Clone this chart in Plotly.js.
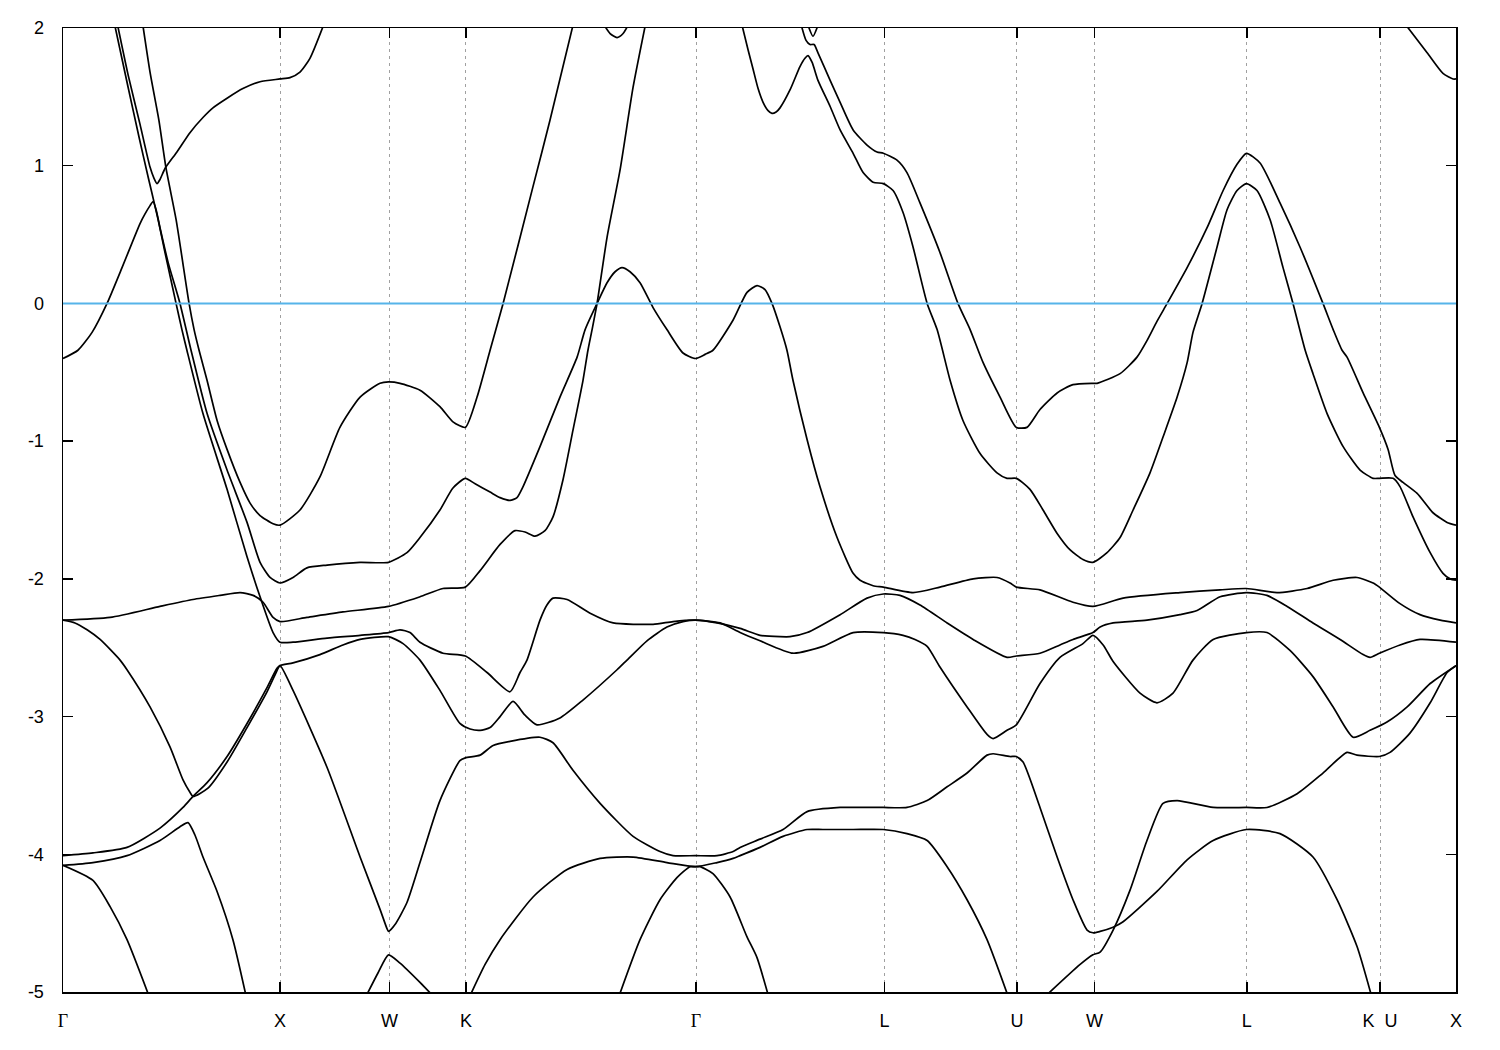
<!DOCTYPE html>
<html>
<head>
<meta charset="utf-8">
<script src="https://cdn.plot.ly/plotly-3.0.1.min.js"></script>
<style>html,body{margin:0;padding:0;background:#fff;}#plot{width:1500px;height:1050px;}</style>
</head>
<body>
<div id="plot"></div>
<script>
// High-symmetry points along the k-path
const kTicks = [0, 1.0, 1.504, 1.857, 2.917, 3.785, 4.396, 4.753, 5.455, 6.069, 6.419];
const kLabels = ['Γ', 'X', 'W', 'K', 'Γ', 'L', 'U', 'W', 'L', 'K\u00a0\u00a0U', 'X'];
const eTicks = [-5, -4, -3, -2, -1, 0, 1, 2];
const eLabels = ['-5', '-4', '-3', '-2', '-1', '0', '1', '2'];
const fermiLevel = 0;

// Band curves (k in 2π/a, E in eV)
const b1_k = [0,0.069,0.134,0.203,0.272,0.355,0.378,0.401,0.415,0.429,0.447,0.484,0.539,0.590,0.664,0.756,0.848,0.908,0.954,1.000,1.060,1.124,1.217,1.369,1.500,1.585,1.645,1.737,1.797,1.854,1.899,1.968,2.014,2.060,2.092,2.120,2.198,2.290,2.369,2.406,2.461,2.507,2.544,2.576,2.613,2.659,2.719,2.783,2.857,2.914,2.959,2.995,3.088,3.152,3.198,3.235,3.267,3.304,3.336,3.364,3.429,3.488,3.567,3.641,3.673,3.733,3.780,3.917,4.041,4.194,4.304,4.364,4.393,4.502,4.654,4.746,4.885,5.147,5.332,5.453,5.594,5.733,5.853,5.963,6.037,6.066,6.161,6.253,6.346,6.419];
const b1_E = [-0.40,-0.34,-0.21,0.00,0.26,0.58,0.65,0.71,0.74,0.68,0.55,0.30,0.00,-0.34,-0.80,-1.21,-1.59,-1.88,-1.99,-2.03,-1.99,-1.92,-1.90,-1.88,-1.88,-1.81,-1.70,-1.50,-1.34,-1.27,-1.31,-1.37,-1.41,-1.43,-1.41,-1.33,-1.04,-0.68,-0.39,-0.19,0.00,0.15,0.23,0.26,0.23,0.15,-0.03,-0.19,-0.36,-0.40,-0.37,-0.34,-0.12,0.08,0.13,0.10,0.00,-0.17,-0.34,-0.56,-0.99,-1.33,-1.70,-1.96,-2.01,-2.05,-2.06,-2.10,-2.06,-2.00,-1.99,-2.03,-2.06,-2.08,-2.17,-2.20,-2.14,-2.10,-2.08,-2.07,-2.10,-2.07,-2.01,-1.99,-2.03,-2.06,-2.18,-2.26,-2.30,-2.32];

const b2_k = [0.240,0.300,0.350,0.392,0.410,0.438,0.470,0.521,0.548,0.571,0.645,0.756,0.848,0.908,0.968,1.000,1.060,1.217,1.369,1.500,1.553,1.599,1.645,1.751,1.854,1.954,2.060,2.106,2.138,2.198,2.230,2.258,2.323,2.429,2.535,2.719,2.811,2.914,3.014,3.120,3.212,3.304,3.350,3.429,3.581,3.705,3.780,3.857,3.949,4.074,4.194,4.350,4.393,4.502,4.594,4.654,4.746,4.779,4.839,4.995,5.147,5.226,5.332,5.453,5.548,5.641,5.760,5.885,5.991,6.023,6.066,6.161,6.253,6.419];
const b2_E = [2.01,1.57,1.21,0.92,0.80,0.61,0.37,0.00,-0.19,-0.34,-0.80,-1.35,-1.84,-2.13,-2.39,-2.46,-2.46,-2.43,-2.41,-2.39,-2.37,-2.39,-2.46,-2.54,-2.56,-2.68,-2.82,-2.68,-2.59,-2.30,-2.19,-2.14,-2.15,-2.25,-2.32,-2.33,-2.31,-2.30,-2.32,-2.36,-2.41,-2.42,-2.42,-2.39,-2.26,-2.14,-2.11,-2.12,-2.19,-2.32,-2.44,-2.57,-2.56,-2.54,-2.48,-2.44,-2.39,-2.35,-2.32,-2.30,-2.26,-2.23,-2.13,-2.10,-2.12,-2.20,-2.32,-2.44,-2.55,-2.57,-2.54,-2.48,-2.44,-2.46];

const b3_k = [0.369,0.401,0.442,0.475,0.521,0.581,0.604,0.627,0.664,0.710,0.756,0.816,0.862,0.908,0.968,1.000,1.092,1.184,1.276,1.369,1.461,1.500,1.553,1.645,1.737,1.797,1.854,1.908,1.968,2.028,2.166,2.244,2.350];
const b3_E = [2.01,1.68,1.33,0.98,0.61,0.00,-0.19,-0.34,-0.56,-0.85,-1.06,-1.30,-1.45,-1.54,-1.60,-1.61,-1.50,-1.26,-0.90,-0.68,-0.58,-0.57,-0.58,-0.63,-0.75,-0.86,-0.90,-0.68,-0.34,0.00,0.85,1.33,2.02];

const b4_k = [0.253,0.300,0.355,0.401,0.419,0.433,0.447,0.470,0.525,0.585,0.645,0.691,0.756,0.829,0.908,1.000,1.046,1.092,1.138,1.198];
const b4_E = [2.01,1.66,1.30,0.99,0.91,0.87,0.90,0.98,1.10,1.24,1.35,1.42,1.49,1.56,1.61,1.63,1.64,1.68,1.78,2.01];

const b5_k = [0,0.217,0.447,0.599,0.724,0.816,0.876,0.922,0.968,1.000,1.124,1.290,1.500,1.645,1.751,1.854,1.922,2.014,2.083,2.129,2.175,2.221,2.258,2.304,2.350,2.396,2.419,2.438,2.461,2.507,2.567,2.627,2.682];
const b5_E = [-2.30,-2.28,-2.20,-2.15,-2.12,-2.10,-2.12,-2.17,-2.28,-2.31,-2.28,-2.24,-2.20,-2.13,-2.07,-2.06,-1.94,-1.75,-1.65,-1.66,-1.69,-1.65,-1.55,-1.28,-0.92,-0.56,-0.34,-0.19,0.00,0.48,0.97,1.57,2.01];

const b6_k = [0,0.055,0.111,0.171,0.263,0.295,0.401,0.493,0.553,0.585,0.599,0.668,0.756,0.848,0.940,0.982,1.000,1.060,1.217,1.369,1.461,1.493,1.500,1.530,1.585,1.645,1.737,1.829,1.854,1.922,1.982,2.060,2.198,2.258,2.350,2.475,2.627,2.751,2.811,2.914,3.014,3.088,3.120,3.212,3.318,3.429,3.581,3.733,3.780,3.889,3.982,4.074,4.166,4.258,4.286,4.364,4.393,4.424,4.502,4.581,4.654,4.719,4.746,4.779,4.839,4.885,5.041,5.180,5.300,5.453,5.608,5.760,5.871,5.963,6.037];
const b6_E = [-2.30,-2.32,-2.37,-2.44,-2.59,-2.66,-2.93,-3.22,-3.46,-3.55,-3.58,-3.52,-3.33,-3.08,-2.82,-2.68,-2.63,-2.81,-3.37,-4.02,-4.40,-4.54,-4.56,-4.51,-4.35,-4.06,-3.61,-3.32,-3.30,-3.28,-3.21,-3.18,-3.15,-3.19,-3.39,-3.63,-3.87,-3.98,-4.01,-4.01,-4.01,-3.98,-3.95,-3.89,-3.82,-3.69,-3.66,-3.66,-3.66,-3.66,-3.61,-3.51,-3.41,-3.28,-3.27,-3.29,-3.29,-3.33,-3.66,-4.02,-4.33,-4.55,-4.57,-4.56,-4.53,-4.49,-4.27,-4.04,-3.90,-3.82,-3.85,-4.02,-4.33,-4.67,-5.07];

const b7_k = [0,0.138,0.295,0.447,0.553,0.599,0.664,0.756,0.848,0.940,0.986,1.000,1.060,1.184,1.290,1.369,1.500,1.567,1.645,1.737,1.829,1.876,1.922,1.968,2.014,2.074,2.129,2.184,2.290,2.396,2.553,2.599,2.691,2.783,2.857,2.914,3.028,3.120,3.212,3.364,3.502,3.641,3.780,3.871,3.926,3.982,4.041,4.166,4.258,4.286,4.350,4.393,4.502,4.594,4.700,4.746,4.793,4.839,4.963,5.041,5.115,5.207,5.300,5.453,5.548,5.654,5.760,5.853,5.945,6.023,6.101,6.194,6.300,6.419];
const b7_E = [-4.01,-3.99,-3.95,-3.81,-3.66,-3.58,-3.48,-3.29,-3.05,-2.79,-2.65,-2.63,-2.61,-2.55,-2.48,-2.44,-2.42,-2.47,-2.59,-2.81,-3.05,-3.09,-3.10,-3.08,-3.00,-2.89,-2.99,-3.06,-3.01,-2.88,-2.66,-2.59,-2.45,-2.35,-2.31,-2.30,-2.32,-2.39,-2.45,-2.54,-2.49,-2.39,-2.39,-2.41,-2.44,-2.49,-2.64,-2.93,-3.13,-3.16,-3.10,-3.06,-2.76,-2.57,-2.47,-2.41,-2.48,-2.60,-2.83,-2.90,-2.83,-2.59,-2.44,-2.39,-2.39,-2.52,-2.71,-2.93,-3.15,-3.10,-3.04,-2.93,-2.76,-2.63];

const b8_k = [0,0.138,0.295,0.447,0.539,0.576,0.608,0.645,0.710,0.783,0.848];
const b8_E = [-4.08,-4.06,-4.01,-3.90,-3.80,-3.77,-3.86,-4.02,-4.27,-4.62,-5.06];

const b9_k = [0,0.138,0.217,0.295,0.406];
const b9_E = [-4.08,-4.19,-4.38,-4.62,-5.07];

const b10_k = [1.387,1.452,1.500,1.553,1.645,1.724];
const b10_E = [-5.06,-4.86,-4.73,-4.79,-4.93,-5.06];

const b11_k = [1.866,1.945,2.014,2.166,2.323,2.475,2.627,2.783,2.914,3.014,3.088,3.120,3.212,3.318,3.429,3.502,3.641,3.780,3.889,3.982,4.074,4.166,4.258,4.364];
const b11_E = [-5.06,-4.80,-4.62,-4.31,-4.11,-4.03,-4.02,-4.06,-4.09,-4.06,-4.03,-4.01,-3.95,-3.87,-3.82,-3.82,-3.82,-3.82,-3.85,-3.90,-4.09,-4.33,-4.62,-5.07];

const b12_k = [2.553,2.659,2.751,2.829,2.889,2.914,2.935,2.995,3.074,3.152,3.198,3.258];
const b12_E = [-5.07,-4.62,-4.33,-4.17,-4.09,-4.09,-4.09,-4.14,-4.31,-4.60,-4.75,-5.07];

const b13_k = [4.507,4.687,4.746,4.779,4.839,4.917,4.995,5.069,5.134,5.300,5.453,5.548,5.687,5.806,5.917,5.963,6.066,6.115,6.207,6.300,6.378,6.419];
const b13_E = [-5.06,-4.80,-4.73,-4.71,-4.55,-4.26,-3.90,-3.63,-3.61,-3.66,-3.66,-3.66,-3.56,-3.41,-3.26,-3.28,-3.29,-3.26,-3.12,-2.90,-2.68,-2.63];

const b15_k = [3.129,3.157,3.180,3.203,3.226,3.249,3.267,3.286,3.304,3.350,3.396,3.419,3.433,3.452,3.479,3.535,3.581,3.641,3.687,3.733,3.780,3.825,3.871,3.917,3.982,4.028,4.088,4.147,4.226,4.304,4.350,4.393,4.456,4.516,4.581,4.641,4.700,4.746,4.811,4.871,4.931,5.009,5.069,5.134,5.180,5.207,5.249,5.318,5.364,5.410,5.453,5.502,5.562,5.622,5.668,5.724,5.760,5.825,5.899,5.977,6.037,6.066,6.129,6.161,6.221,6.300,6.359,6.392,6.419];
const b15_E = [2.02,1.84,1.70,1.56,1.46,1.40,1.38,1.39,1.42,1.55,1.72,1.78,1.80,1.75,1.62,1.43,1.26,1.09,0.95,0.88,0.87,0.82,0.66,0.41,0.00,-0.19,-0.56,-0.85,-1.09,-1.23,-1.27,-1.27,-1.35,-1.50,-1.67,-1.79,-1.86,-1.88,-1.81,-1.70,-1.50,-1.23,-0.97,-0.68,-0.43,-0.21,0.00,0.41,0.68,0.82,0.87,0.82,0.61,0.26,0.00,-0.34,-0.51,-0.80,-1.04,-1.21,-1.27,-1.27,-1.27,-1.33,-1.55,-1.81,-1.96,-2.00,-2.01];

const b16_k = [3.402,3.424,3.442,3.461,3.479,3.535,3.581,3.641,3.705,3.751,3.780,3.843,3.889,3.949,4.041,4.124,4.180,4.240,4.318,4.393,4.442,4.502,4.581,4.654,4.746,4.765,4.871,4.949,4.995,5.041,5.088,5.180,5.272,5.346,5.410,5.453,5.516,5.608,5.700,5.806,5.853,5.894,5.917,5.991,6.066,6.106,6.138,6.175,6.240,6.313,6.378,6.419];
const b16_E = [2.02,1.91,1.88,1.88,1.82,1.62,1.46,1.26,1.15,1.10,1.09,1.04,0.95,0.73,0.37,0.00,-0.19,-0.43,-0.68,-0.90,-0.90,-0.77,-0.65,-0.59,-0.58,-0.58,-0.51,-0.39,-0.27,-0.13,0.00,0.26,0.55,0.82,1.01,1.09,1.02,0.73,0.41,0.00,-0.19,-0.34,-0.39,-0.65,-0.90,-1.06,-1.25,-1.30,-1.38,-1.52,-1.59,-1.61];

const b17_k = [6.189,6.286,6.359,6.406,6.419];
const b17_E = [2.02,1.82,1.67,1.63,1.63];

const b18_k = [2.494,2.521,2.553,2.581,2.604];
const b18_E = [2.02,1.96,1.93,1.96,2.02];

const b19_k = [3.433,3.456,3.479];
const b19_E = [2.02,1.94,2.02];

const bands = [
  [b1_k,b1_E],[b2_k,b2_E],[b3_k,b3_E],[b4_k,b4_E],[b5_k,b5_E],[b6_k,b6_E],
  [b7_k,b7_E],[b8_k,b8_E],[b9_k,b9_E],[b10_k,b10_E],[b11_k,b11_E],[b12_k,b12_E],
  [b13_k,b13_E],[b15_k,b15_E],[b16_k,b16_E],[b17_k,b17_E],[b18_k,b18_E],[b19_k,b19_E]
];

const traces = bands.map(b => ({
  x: b[0], y: b[1], type: 'scatter', mode: 'lines',
  line: {color: '#000000', width: 1.7, shape: 'spline', smoothing: 0.6},
  hoverinfo: 'skip', showlegend: false
}));

const tickText = kLabels.map(t => t === 'Γ' ? '<span style="font-family:Liberation Serif, serif">Γ</span>' : t);

const layout = {
  width: 1500, height: 1050,
  margin: {l: 63, r: 44, t: 28, b: 58, pad: 0},
  paper_bgcolor: '#ffffff', plot_bgcolor: '#ffffff',
  font: {family: 'Liberation Sans, Arial, sans-serif', size: 18, color: '#000000'},
  showlegend: false,
  hovermode: false,
  xaxis: {
    range: [0, 6.419], tickmode: 'array', tickvals: kTicks, ticktext: tickText,
    tickangle: 0,
    ticks: 'inside', ticklen: 10, tickwidth: 1.5, tickcolor: '#000000',
    showline: true, linecolor: '#000000', linewidth: 1.5, mirror: 'ticks',
    showgrid: true, gridcolor: '#a0a0a0', gridwidth: 1, griddash: '3px,4px',
    zeroline: false, ticklabelstandoff: 12, fixedrange: true
  },
  yaxis: {
    range: [-5, 2], tickmode: 'array', tickvals: eTicks, ticktext: eLabels,
    tickangle: 0,
    ticks: 'inside', ticklen: 10, tickwidth: 1.5, tickcolor: '#000000',
    showline: true, linecolor: '#000000', linewidth: 1.5, mirror: 'ticks',
    showgrid: false, zeroline: false,
    ticklabelstandoff: 14, fixedrange: true
  },
  shapes: [{
    type: 'line', xref: 'paper', x0: 0, x1: 1, yref: 'y', y0: fermiLevel, y1: fermiLevel,
    line: {color: '#56b4e9', width: 2}, layer: 'above'
  }]
};

Plotly.newPlot('plot', traces, layout, {staticPlot: true, displayModeBar: false});
</script>
</body>
</html>
